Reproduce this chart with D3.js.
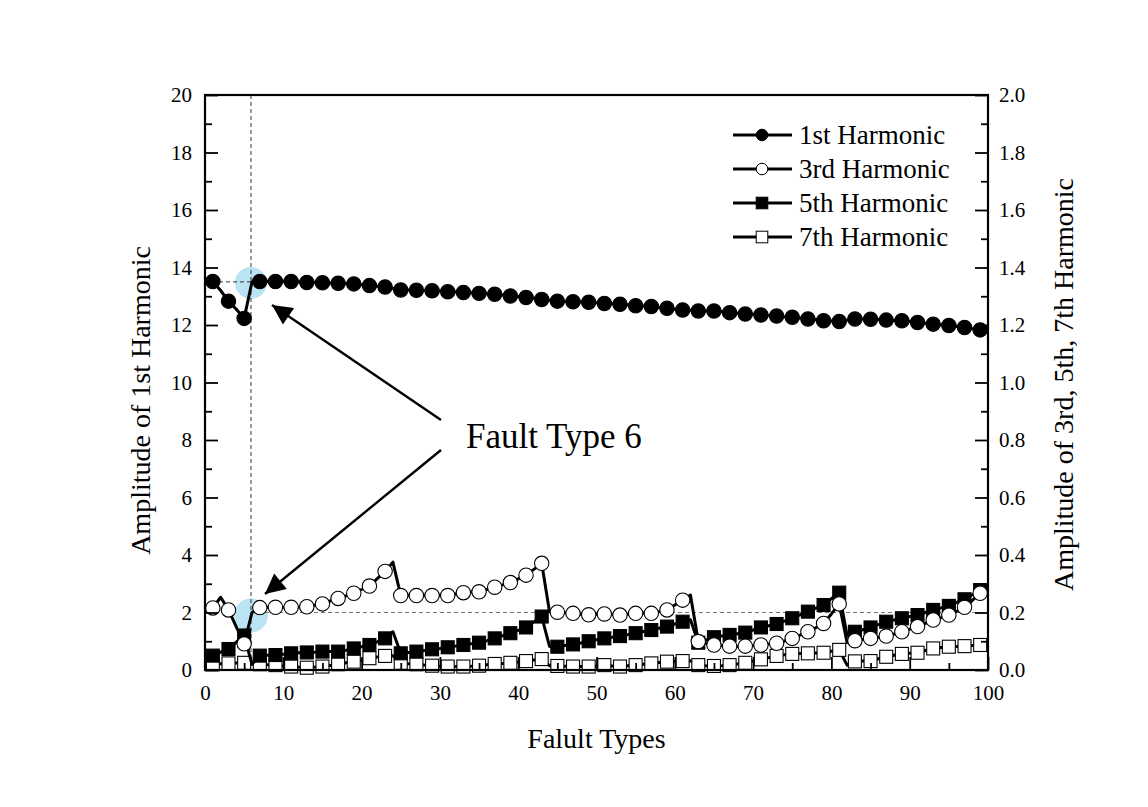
<!DOCTYPE html>
<html>
<head>
<meta charset="utf-8">
<script src="https://cdn.jsdelivr.net/npm/d3@7"></script>
<style>
  body { margin: 0; background: #fff; }
  svg { display: block; }
  text { font-family: "Liberation Serif", "DejaVu Serif", serif; fill: #000; }
</style>
</head>
<body>
<svg id="chart" width="1148" height="807"></svg>
<script>
// ---------------- data ----------------
const faultTypes = d3.range(1, 101); // 1..100
const h1 = [13.51,13.20,12.83,12.55,12.23,13.50,13.51,13.51,13.51,13.51,
            13.51,13.50,13.48,13.48,13.47,13.46,13.45,13.44,13.43,13.40,
            13.37,13.35,13.32,13.27,13.22,13.22,13.21,13.20,13.19,13.18,
            13.16,13.15,13.13,13.12,13.10,13.09,13.07,13.04,13.01,12.99,
            12.96,12.93,12.89,12.86,12.83,12.82,12.81,12.80,12.79,12.77,
            12.75,12.74,12.72,12.70,12.67,12.66,12.64,12.61,12.58,12.55,
            12.52,12.51,12.49,12.49,12.49,12.46,12.43,12.41,12.38,12.37,
            12.35,12.33,12.31,12.29,12.27,12.24,12.21,12.18,12.15,12.14,
            12.12,12.17,12.21,12.21,12.20,12.19,12.17,12.16,12.15,12.12,
            12.09,12.06,12.03,12.01,11.98,11.95,11.91,11.87,11.83,11.80];
const h3 = [0.216,0.253,0.209,0.150,0.091,0.200,0.217,0.218,0.218,0.218,
            0.218,0.219,0.220,0.225,0.230,0.240,0.249,0.258,0.267,0.280,
            0.292,0.318,0.343,0.375,0.259,0.259,0.259,0.259,0.259,0.259,
            0.259,0.264,0.269,0.271,0.272,0.280,0.288,0.296,0.304,0.317,
            0.330,0.350,0.371,0.203,0.201,0.199,0.197,0.194,0.192,0.194,
            0.195,0.193,0.191,0.194,0.197,0.197,0.197,0.203,0.209,0.226,
            0.243,0.261,0.099,0.093,0.087,0.085,0.083,0.083,0.083,0.085,
            0.087,0.090,0.093,0.101,0.110,0.121,0.133,0.147,0.162,0.195,
            0.230,0.096,0.102,0.106,0.110,0.114,0.118,0.125,0.133,0.142,
            0.151,0.162,0.174,0.182,0.191,0.204,0.218,0.242,0.267,0.285];
const h5 = [0.050,0.062,0.073,0.097,0.120,0.020,0.050,0.051,0.052,0.055,
            0.058,0.060,0.061,0.062,0.064,0.064,0.064,0.069,0.075,0.081,
            0.087,0.098,0.110,0.133,0.058,0.061,0.064,0.068,0.072,0.075,
            0.079,0.083,0.087,0.091,0.095,0.102,0.110,0.119,0.128,0.138,
            0.148,0.167,0.186,0.082,0.081,0.085,0.089,0.094,0.100,0.105,
            0.110,0.114,0.118,0.123,0.128,0.134,0.139,0.145,0.151,0.160,
            0.168,0.175,0.095,0.105,0.114,0.118,0.122,0.126,0.130,0.139,
            0.148,0.154,0.160,0.170,0.180,0.192,0.203,0.215,0.226,0.248,
            0.269,0.120,0.133,0.140,0.148,0.158,0.168,0.174,0.180,0.186,
            0.191,0.200,0.209,0.216,0.223,0.235,0.246,0.262,0.278,0.290];
const h7 = [0.020,0.022,0.023,0.024,0.025,0.022,0.020,0.018,0.017,0.014,
            0.012,0.010,0.008,0.010,0.012,0.016,0.020,0.025,0.029,0.035,
            0.041,0.045,0.049,0.050,0.025,0.022,0.020,0.017,0.015,0.013,
            0.012,0.012,0.012,0.013,0.015,0.018,0.021,0.023,0.025,0.028,
            0.031,0.035,0.038,0.015,0.014,0.013,0.012,0.012,0.012,0.014,
            0.017,0.014,0.012,0.015,0.017,0.020,0.023,0.026,0.029,0.030,
            0.031,0.032,0.017,0.015,0.014,0.015,0.017,0.021,0.025,0.031,
            0.037,0.043,0.049,0.053,0.056,0.057,0.058,0.059,0.060,0.065,
            0.070,0.017,0.030,0.031,0.031,0.039,0.046,0.051,0.056,0.058,
            0.060,0.068,0.075,0.078,0.081,0.082,0.083,0.085,0.087,0.088];
const seriesNames = ["1st Harmonic", "3rd Harmonic", "5th Harmonic", "7th Harmonic"];
const xTicks = [0,10,20,30,40,50,60,70,80,90,100];
const yLeftTicks = [0,2,4,6,8,10,12,14,16,18,20];
const yRightTicks = [0.0,0.2,0.4,0.6,0.8,1.0,1.2,1.4,1.6,1.8,2.0];
const highlightType = 6;
const highlightH1 = 13.5;
const highlightH3 = 0.2;

// ---------------- layout ----------------
const svg = d3.select("#chart");
const L = 205, R = 988, T = 95, B = 670;
const x = d3.scaleLinear().domain([0, 100]).range([L, R]);
const yL = d3.scaleLinear().domain([0, 20]).range([B, T]);
const yR = d3.scaleLinear().domain([0, 2]).range([B, T]);

// highlight circles (behind)
svg.append("circle").attr("cx", x(highlightType) - 1).attr("cy", yL(highlightH1) + 1)
  .attr("r", 16).attr("fill", "#b3e0f2").attr("opacity", 0.9);
svg.append("circle").attr("cx", x(highlightType) - 1).attr("cy", yR(highlightH3) + 3)
  .attr("r", 17).attr("fill", "#b3e0f2").attr("opacity", 0.9);

// dashed reference lines
svg.append("line").attr("x1", x(highlightType) - 1).attr("x2", x(highlightType) - 1)
  .attr("y1", T).attr("y2", B).attr("stroke", "#333").attr("stroke-width", 1)
  .attr("stroke-dasharray", "4,3");
svg.append("line").attr("x1", L).attr("x2", x(highlightType) - 1)
  .attr("y1", yL(highlightH1)).attr("y2", yL(highlightH1)).attr("stroke", "#333")
  .attr("stroke-width", 1).attr("stroke-dasharray", "4,3");
svg.append("line").attr("x1", x(highlightType) - 1).attr("x2", R)
  .attr("y1", yR(highlightH3)).attr("y2", yR(highlightH3)).attr("stroke", "#777")
  .attr("stroke-width", 1.2).attr("stroke-dasharray", "4,3");

// series
const series = [
  { vals: h1, y: yL, shape: "circle", fill: "#000" },
  { vals: h3, y: yR, shape: "circle", fill: "#fff" },
  { vals: h5, y: yR, shape: "square", fill: "#000" },
  { vals: h7, y: yR, shape: "square", fill: "#fff" }
];
const gPlot = svg.append("g");
[3, 2, 1, 0].forEach(si => {
  const s = series[si];
  const pts = faultTypes.map((f, i) => [f, s.vals[i]]);
  const line = d3.line().x(d => x(d[0])).y(d => s.y(d[1]));
  gPlot.append("path").attr("d", line(pts)).attr("fill", "none")
    .attr("stroke", "#000").attr("stroke-width", 3).attr("stroke-linejoin", "round");
  const mk = pts.filter((d, i) => i % 2 === 0);
  if (s.shape === "circle") {
    gPlot.selectAll(null).data(mk).enter().append("circle")
      .attr("cx", d => x(d[0])).attr("cy", d => s.y(d[1])).attr("r", 7.2)
      .attr("fill", s.fill).attr("stroke", "#000").attr("stroke-width", 1.1);
  } else {
    const w = 13;
    gPlot.selectAll(null).data(mk).enter().append("rect")
      .attr("x", d => x(d[0]) - w / 2).attr("y", d => s.y(d[1]) - w / 2)
      .attr("width", w).attr("height", w)
      .attr("fill", s.fill).attr("stroke", "#000").attr("stroke-width", 1.1);
  }
});

// axes
const fs = "21px";
function styleAxis(g) {
  g.select(".domain").remove();
  g.selectAll(".tick line").attr("stroke", "#000").attr("stroke-width", 1.8);
  g.selectAll(".tick text").style("font-size", fs).style("font-family", "Liberation Serif");
}
// left
svg.append("g").attr("transform", `translate(${L},0)`)
  .call(d3.axisLeft(yL).tickValues(yLeftTicks).tickSize(-13).tickPadding(13).tickFormat(d3.format("d")))
  .call(styleAxis);
svg.append("g").attr("transform", `translate(${L},0)`)
  .call(d3.axisLeft(yL).tickValues(yLeftTicks.slice(0, -1).map(v => v + 1)).tickSize(-7).tickFormat(""))
  .call(styleAxis);
// right
svg.append("g").attr("transform", `translate(${R},0)`)
  .call(d3.axisRight(yR).tickValues(yRightTicks).tickSize(-13).tickPadding(11).tickFormat(d3.format(".1f")))
  .call(styleAxis);
svg.append("g").attr("transform", `translate(${R},0)`)
  .call(d3.axisRight(yR).tickValues(yRightTicks.slice(0, -1).map(v => v + 0.1)).tickSize(-7).tickFormat(""))
  .call(styleAxis);
// bottom
svg.append("g").attr("transform", `translate(0,${B})`)
  .call(d3.axisBottom(x).tickValues(xTicks).tickSize(-13).tickPadding(15).tickFormat(d3.format("d")))
  .call(styleAxis);
svg.append("g").attr("transform", `translate(0,${B})`)
  .call(d3.axisBottom(x).tickValues(xTicks.slice(0, -1).map(v => v + 5)).tickSize(-7).tickFormat(""))
  .call(styleAxis);

// frame
svg.append("rect").attr("x", L).attr("y", T).attr("width", R - L).attr("height", B - T)
  .attr("fill", "none").attr("stroke", "#000").attr("stroke-width", 2.2);

// axis titles
svg.append("text").attr("transform", `translate(150,${(T + B) / 2 + 18}) rotate(-90)`)
  .attr("text-anchor", "middle").style("font-size", "28px").text("Amplitude of 1st Harmonic");
svg.append("text").attr("transform", `translate(1073,${(T + B) / 2 + 2}) rotate(-90)`)
  .attr("text-anchor", "middle").style("font-size", "28px").text("Amplitude of 3rd, 5th, 7th Harmonic");
svg.append("text").attr("x", (L + R) / 2).attr("y", 748)
  .attr("text-anchor", "middle").style("font-size", "28px").text("Falult Types");

// legend
const lg = svg.append("g");
seriesNames.forEach((name, i) => {
  const yy = 135 + i * 34;
  const s = series[i];
  lg.append("line").attr("x1", 733).attr("x2", 792).attr("y1", yy).attr("y2", yy)
    .attr("stroke", "#000").attr("stroke-width", 2.8);
  if (s.shape === "circle") {
    lg.append("circle").attr("cx", 762).attr("cy", yy).attr("r", 5.8)
      .attr("fill", s.fill).attr("stroke", "#000").attr("stroke-width", 1);
  } else {
    lg.append("rect").attr("x", 762 - 5.8).attr("y", yy - 5.8).attr("width", 11.6).attr("height", 11.6)
      .attr("fill", s.fill).attr("stroke", "#000").attr("stroke-width", 1);
  }
  lg.append("text").attr("x", 799).attr("y", yy + 9).style("font-size", "27px").text(name);
});

// annotation
svg.append("defs").append("marker").attr("id", "ah").attr("viewBox", "0 0 10 10")
  .attr("refX", 10).attr("refY", 5).attr("markerWidth", 30).attr("markerHeight", 20)
  .attr("markerUnits", "userSpaceOnUse").attr("orient", "auto")
  .append("path").attr("d", "M0,0 L10,5 L0,10 z").attr("fill", "#000");
svg.append("line").attr("x1", 441).attr("y1", 420).attr("x2", 272).attr("y2", 305)
  .attr("stroke", "#000").attr("stroke-width", 2.4).attr("marker-end", "url(#ah)");
svg.append("line").attr("x1", 441).attr("y1", 450).attr("x2", 265).attr("y2", 594)
  .attr("stroke", "#000").attr("stroke-width", 2.4).attr("marker-end", "url(#ah)");
svg.append("text").attr("x", 466).attr("y", 448).style("font-size", "35px").text("Fault Type 6");
</script>
</body>
</html>
